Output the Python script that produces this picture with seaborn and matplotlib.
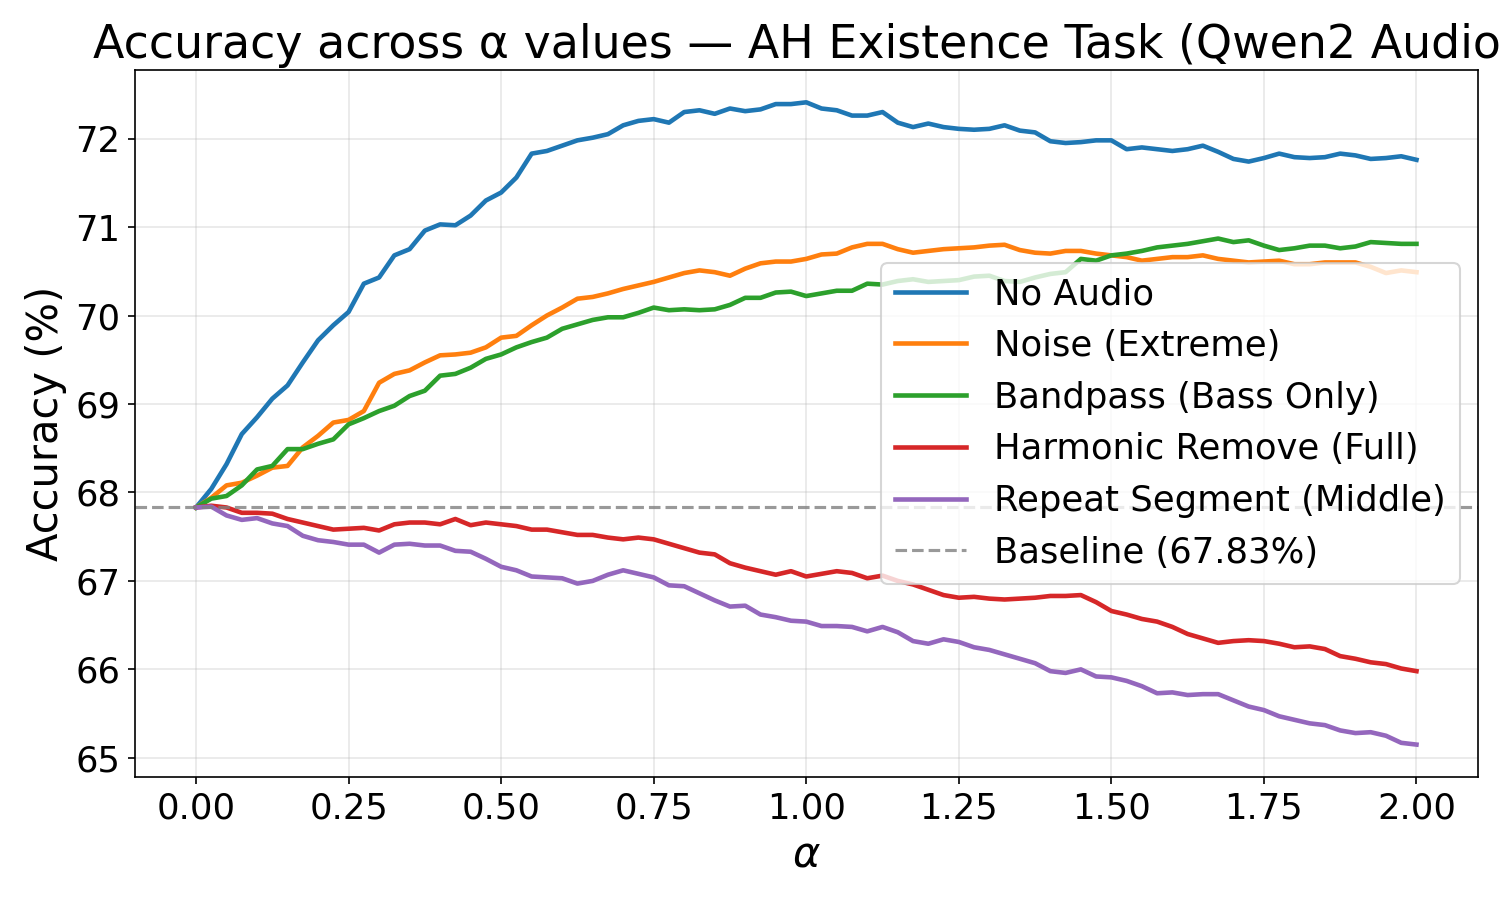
import numpy as np
import pandas as pd
import matplotlib
matplotlib.use("Agg")
import matplotlib.pyplot as plt
import seaborn as sns

# alpha grid (step 0.025)
alphas = np.linspace(0, 2, 81)

no_audio = [
    67.83, 68.04, 68.32, 68.66, 68.85, 69.06, 69.21, 69.47, 69.72, 69.89,
    70.04, 70.36, 70.43, 70.68, 70.75, 70.96, 71.03, 71.02, 71.13, 71.30,
    71.39, 71.56, 71.83, 71.86, 71.92, 71.98, 72.01, 72.05, 72.15, 72.20,
    72.22, 72.18, 72.30, 72.32, 72.28, 72.34, 72.31, 72.33, 72.39, 72.39,
    72.41, 72.34, 72.32, 72.26, 72.26, 72.30, 72.18, 72.13, 72.17, 72.13,
    72.11, 72.10, 72.11, 72.15, 72.09, 72.07, 71.97, 71.95, 71.96, 71.98,
    71.98, 71.88, 71.90, 71.88, 71.86, 71.88, 71.92, 71.85, 71.77, 71.74,
    71.78, 71.83, 71.79, 71.78, 71.79, 71.83, 71.81, 71.77, 71.78, 71.80,
    71.76,
]
noise_extreme = [
    67.83, 67.94, 68.08, 68.11, 68.19, 68.28, 68.30, 68.51, 68.64, 68.79,
    68.82, 68.92, 69.24, 69.34, 69.38, 69.47, 69.55, 69.56, 69.58, 69.64,
    69.75, 69.77, 69.89, 70.00, 70.09, 70.19, 70.21, 70.25, 70.30, 70.34,
    70.38, 70.43, 70.48, 70.51, 70.49, 70.45, 70.53, 70.59, 70.61, 70.61,
    70.64, 70.69, 70.70, 70.77, 70.81, 70.81, 70.75, 70.71, 70.73, 70.75,
    70.76, 70.77, 70.79, 70.80, 70.74, 70.71, 70.70, 70.73, 70.73, 70.70,
    70.68, 70.66, 70.62, 70.64, 70.66, 70.66, 70.68, 70.64, 70.62, 70.60,
    70.61, 70.62, 70.58, 70.58, 70.60, 70.60, 70.60, 70.55, 70.48, 70.51,
    70.49,
]
bandpass_bass = [
    67.83, 67.93, 67.96, 68.08, 68.26, 68.30, 68.49, 68.49, 68.55, 68.60,
    68.77, 68.84, 68.92, 68.98, 69.09, 69.15, 69.32, 69.34, 69.41, 69.51,
    69.56, 69.64, 69.70, 69.75, 69.85, 69.90, 69.95, 69.98, 69.98, 70.03,
    70.09, 70.06, 70.07, 70.06, 70.07, 70.12, 70.20, 70.20, 70.26, 70.27,
    70.22, 70.25, 70.28, 70.28, 70.36, 70.35, 70.39, 70.41, 70.38, 70.39,
    70.40, 70.44, 70.45, 70.39, 70.38, 70.43, 70.47, 70.49, 70.64, 70.62,
    70.68, 70.70, 70.73, 70.77, 70.79, 70.81, 70.84, 70.87, 70.83, 70.85,
    70.79, 70.74, 70.76, 70.79, 70.79, 70.76, 70.78, 70.83, 70.82, 70.81,
    70.81,
]
harmonic_remove = [
    67.83, 67.85, 67.83, 67.77, 67.77, 67.76, 67.70, 67.66, 67.62, 67.58,
    67.59, 67.60, 67.57, 67.64, 67.66, 67.66, 67.64, 67.70, 67.63, 67.66,
    67.64, 67.62, 67.58, 67.58, 67.55, 67.52, 67.52, 67.49, 67.47, 67.49,
    67.47, 67.42, 67.37, 67.32, 67.30, 67.20, 67.15, 67.11, 67.07, 67.11,
    67.05, 67.08, 67.11, 67.09, 67.03, 67.06, 67.00, 66.96, 66.90, 66.84,
    66.81, 66.82, 66.80, 66.79, 66.80, 66.81, 66.83, 66.83, 66.84, 66.76,
    66.66, 66.62, 66.57, 66.54, 66.48, 66.40, 66.35, 66.30, 66.32, 66.33,
    66.32, 66.29, 66.25, 66.26, 66.23, 66.15, 66.12, 66.08, 66.06, 66.01,
    65.98,
]
repeat_middle = [
    67.83, 67.84, 67.74, 67.69, 67.71, 67.65, 67.62, 67.51, 67.46, 67.44,
    67.41, 67.41, 67.32, 67.41, 67.42, 67.40, 67.40, 67.34, 67.33, 67.25,
    67.16, 67.12, 67.05, 67.04, 67.03, 66.97, 67.00, 67.07, 67.12, 67.08,
    67.04, 66.95, 66.94, 66.86, 66.78, 66.71, 66.72, 66.62, 66.59, 66.55,
    66.54, 66.49, 66.49, 66.48, 66.43, 66.48, 66.42, 66.32, 66.29, 66.34,
    66.31, 66.25, 66.22, 66.17, 66.12, 66.07, 65.98, 65.96, 66.00, 65.92,
    65.91, 65.87, 65.81, 65.73, 65.74, 65.71, 65.72, 65.72, 65.65, 65.58,
    65.54, 65.47, 65.43, 65.39, 65.37, 65.31, 65.28, 65.29, 65.25, 65.17,
    65.15,
]

conditions = ["No Audio", "Noise (Extreme)", "Bandpass (Bass Only)",
              "Harmonic Remove (Full)", "Repeat Segment (Middle)"]
series = [no_audio, noise_extreme, bandpass_bass, harmonic_remove, repeat_middle]
baseline = 67.83

# long-form table for seaborn
df = pd.concat([
    pd.DataFrame({"alpha": alphas, "accuracy": vals, "condition": name})
    for name, vals in zip(conditions, series)
], ignore_index=True)

fig, ax = plt.subplots(figsize=(10, 6), dpi=150)
fig.subplots_adjust(left=0.09, right=0.985, top=0.922, bottom=0.137)

sns.lineplot(data=df, x="alpha", y="accuracy", hue="condition",
             hue_order=conditions, palette="tab10", linewidth=2.2, ax=ax)

ax.axhline(baseline, color="gray", linestyle="--", linewidth=1.5, alpha=0.8,
           label=f"Baseline ({baseline:.2f}%)")

# title is wider than the axes in the original, so it runs off the right edge
ax.set_title("Accuracy across α values — AH Existence Task (Qwen2 Audio)", fontsize=22)
ax.set_xlabel(r"$\alpha$", fontsize=20)
ax.set_ylabel("Accuracy (%)", fontsize=20)
ax.tick_params(axis="both", labelsize=17)
ax.grid(True, alpha=0.3)

handles, labels = ax.get_legend_handles_labels()
ax.legend(handles, labels, loc="center right", fontsize=17)

fig.savefig("out.png", dpi=150)
